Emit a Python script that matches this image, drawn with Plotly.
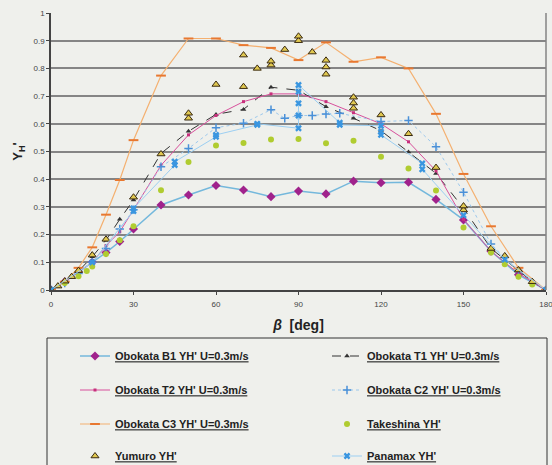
import plotly.graph_objects as go

# ---------------- data ----------------
b1_x = [0, 5, 10, 15, 20, 25, 30, 40, 50, 60, 70, 80, 90, 100, 110, 120, 130, 140, 150, 160, 170, 180]
b1_y = [0, 0.03, 0.065, 0.1, 0.135, 0.175, 0.22, 0.307, 0.343, 0.377, 0.361, 0.337, 0.357, 0.347,
        0.393, 0.387, 0.389, 0.327, 0.253, 0.14, 0.055, 0]

t1_x = [0, 2.5, 5, 7.5, 10, 15, 20, 25, 30, 40, 50, 60, 70, 80, 90, 100, 110, 120, 130, 140, 150,
        160, 170, 175, 180]
t1_y = [0, 0.012, 0.03, 0.048, 0.068, 0.12, 0.18, 0.255, 0.325, 0.493, 0.573, 0.634, 0.652, 0.732,
        0.721, 0.662, 0.62, 0.575, 0.498, 0.421, 0.295, 0.15, 0.07, 0.03, 0]

t2_x = [0, 5, 10, 15, 20, 25, 30, 40, 50, 60, 70, 80, 90, 100, 110, 120, 130, 140, 150, 160, 170, 180]
t2_y = [0, 0.03, 0.065, 0.1, 0.16, 0.21, 0.29, 0.45, 0.56, 0.63, 0.68, 0.708, 0.708, 0.68, 0.64,
        0.6, 0.535, 0.43, 0.255, 0.14, 0.06, 0]

c2_x = [0, 5, 10, 15, 20, 25, 30, 40, 50, 60, 70, 80, 85, 90, 95, 100, 105, 120, 130, 140, 150,
        160, 170, 180]
c2_y = [0, 0.025, 0.06, 0.1, 0.15, 0.22, 0.29, 0.445, 0.511, 0.586, 0.602, 0.651, 0.62, 0.63, 0.63,
        0.635, 0.638, 0.608, 0.612, 0.517, 0.353, 0.166, 0.07, 0]

c3_x = [0, 5, 10, 15, 20, 25, 30, 40, 50, 60, 70, 80, 90, 100, 110, 120, 130, 140, 150, 160, 170, 180]
c3_y = [0, 0.03, 0.08, 0.154, 0.272, 0.397, 0.541, 0.774, 0.908, 0.908, 0.884, 0.874, 0.83, 0.894,
        0.824, 0.84, 0.8, 0.636, 0.419, 0.23, 0.08, 0]

tk_x = [0, 5, 10, 13, 15, 20, 25, 30, 40, 50, 60, 70, 80, 90, 100, 110, 120, 130, 140, 150, 160,
        165, 170, 175, 180]
tk_y = [0, 0.025, 0.05, 0.069, 0.085, 0.13, 0.18, 0.23, 0.36, 0.462, 0.522, 0.531, 0.543, 0.545,
        0.53, 0.539, 0.481, 0.439, 0.359, 0.226, 0.135, 0.093, 0.048, 0.02, 0]

ym_x = [0, 2.5, 5, 7.5, 10, 15, 20, 30, 40, 50, 50, 60, 70, 70, 75, 80, 80, 85, 90, 90, 95, 100, 100,
        100, 110, 110, 110, 120, 130, 140, 150, 150, 160, 165, 170, 175, 180]
ym_y = [0, 0.014, 0.032, 0.048, 0.07, 0.126, 0.183, 0.335, 0.491, 0.62, 0.638, 0.742, 0.734, 0.848,
        0.8, 0.812, 0.826, 0.868, 0.9, 0.916, 0.859, 0.779, 0.805, 0.829, 0.656, 0.675, 0.696, 0.632,
        0.564, 0.442, 0.289, 0.303, 0.15, 0.123, 0.072, 0.03, 0]

pm_x = [0, 15, 30, 30, 45, 45, 60, 60, 75, 75, 90, 90, 90, 90, 90, 105, 105, 120, 120, 120, 135, 135,
        150, 165, 180]
pm_y = [0, 0.1, 0.285, 0.295, 0.451, 0.463, 0.553, 0.56, 0.596, 0.6, 0.584, 0.63, 0.674, 0.716, 0.74,
        0.604, 0.596, 0.593, 0.571, 0.56, 0.457, 0.436, 0.27, 0.11, 0]

names = ["Obokata B1 YH' U=0.3m/s", "Obokata T1 YH' U=0.3m/s", "Obokata T2 YH' U=0.3m/s",
         "Obokata C2 YH' U=0.3m/s", "Obokata C3 YH' U=0.3m/s", "Takeshina YH'", "Yumuro YH'",
         "Panamax YH'"]

x_ticks = [0, 30, 60, 90, 120, 150, 180]
y_ticks = [0, 0.1, 0.2, 0.3, 0.4, 0.5, 0.6, 0.7, 0.8, 0.9, 1]
y_tick_text = ["0", "0.1", "0.2", "0.3", "0.4", "0.5", "0.6", "0.7", "0.8", "0.9", "1"]

# ---------------- figure ----------------
W, H = 552, 465
ML, MR, MT, MB = 51, 6, 13, 175
PW, PH = W - ML - MR, H - MT - MB


def px2paper_x(px):
    return (px - ML) / PW


def px2paper_y(py):
    return (H - MB - py) / PH


fig = go.Figure()

styles = [
    dict(mode="lines+markers", line=dict(color="#74b8dc", width=1.5),
         marker=dict(symbol="diamond", size=7, color="#a0228c")),
    dict(mode="lines+markers", line=dict(color="#333333", width=1, dash="dash"),
         marker=dict(symbol="triangle-up", size=5, color="#333333")),
    dict(mode="lines+markers", line=dict(color="#d8509c", width=1),
         marker=dict(symbol="square", size=3, color="#c8307c")),
    dict(mode="lines+markers", line=dict(color="#9cc8ec", width=1, dash="dot"),
         marker=dict(symbol="cross-thin", size=6, color="#4a90d8", line=dict(color="#4a90d8", width=1.5))),
    dict(mode="lines+markers", line=dict(color="#f4b070", width=1.2),
         marker=dict(symbol="line-ew", size=7, color="#e87830", line=dict(color="#e87830", width=2))),
    dict(mode="markers",
         marker=dict(symbol="circle", size=6, color="#b0cc30")),
    dict(mode="markers",
         marker=dict(symbol="triangle-up", size=7, color="#e0c850", line=dict(color="#3a2a10", width=1))),
    dict(mode="lines+markers", line=dict(color="#9ccff2", width=1),
         marker=dict(symbol="x", size=6, color="#3a96e0")),
]

data = [(b1_x, b1_y), (t1_x, t1_y), (t2_x, t2_y), (c2_x, c2_y), (c3_x, c3_y),
        (tk_x, tk_y), (ym_x, ym_y), (pm_x, pm_y)]

# legend positions (legend left px, row center px)
col_left = [75, 327]
row_y = [356, 390, 424, 456]

legends = {}
for i, ((xs, ys), st, nm) in enumerate(zip(data, styles, names)):
    lname = "legend" if i == 0 else f"legend{i + 1}"
    fig.add_trace(go.Scatter(x=xs, y=ys, name=f"<b><u>{nm}</u></b>", legend=lname, **st))
    col = i % 2
    row = i // 2
    legends[lname] = dict(
        x=px2paper_x(col_left[col]), y=px2paper_y(row_y[row]),
        xanchor="left", yanchor="middle",
        bgcolor="rgba(0,0,0,0)", borderwidth=0,
        font=dict(family="Liberation Sans", size=11, color="#222222"),
        itemclick=False,
    )

# legend border box
fig.add_shape(type="rect", xref="paper", yref="paper",
              x0=px2paper_x(47), x1=px2paper_x(547),
              y0=px2paper_y(338), y1=px2paper_y(480),
              line=dict(color="#333333", width=1), fillcolor="rgba(0,0,0,0)", layer="below")

fig.update_layout(
    width=W, height=H,
    margin=dict(l=ML, r=MR, t=MT, b=MB, autoexpand=False),
    paper_bgcolor="#eff0ec", plot_bgcolor="#eff0ec",
    showlegend=True,
    font=dict(family="Liberation Sans", color="#333333"),
    **legends,
)

fig.update_xaxes(
    range=[0, 180], tickvals=x_ticks, ticktext=[str(v) for v in x_ticks],
    showgrid=False, zeroline=False,
    showline=True, linecolor="#444444", linewidth=1.5, mirror=False,
    ticks="outside", ticklen=3, tickcolor="#444444",
    ticklabelstandoff=3, ticklabeloverflow="allow",
    tickfont=dict(size=8, color="#444444"),
    title=dict(text="<b><i>β</i>  [deg]</b>", font=dict(size=14, color="#222222"), standoff=12),
)
fig.update_yaxes(
    range=[0, 1], tickvals=y_ticks, ticktext=y_tick_text,
    showgrid=True, gridcolor="#858585", gridwidth=1.5, zeroline=False,
    showline=True, linecolor="#444444", linewidth=1.5, mirror=False,
    ticks="outside", ticklen=3, tickcolor="#444444",
    tickfont=dict(size=8, color="#444444"),
    title=dict(text="<b>Y<sub>H</sub>'</b>", font=dict(size=13, color="#222222"), standoff=8),
)

# right border of plot area
fig.add_shape(type="line", xref="paper", yref="paper", x0=1, x1=1, y0=0, y1=1,
              line=dict(color="#858585", width=1.5))

fig.write_html("out.html")
